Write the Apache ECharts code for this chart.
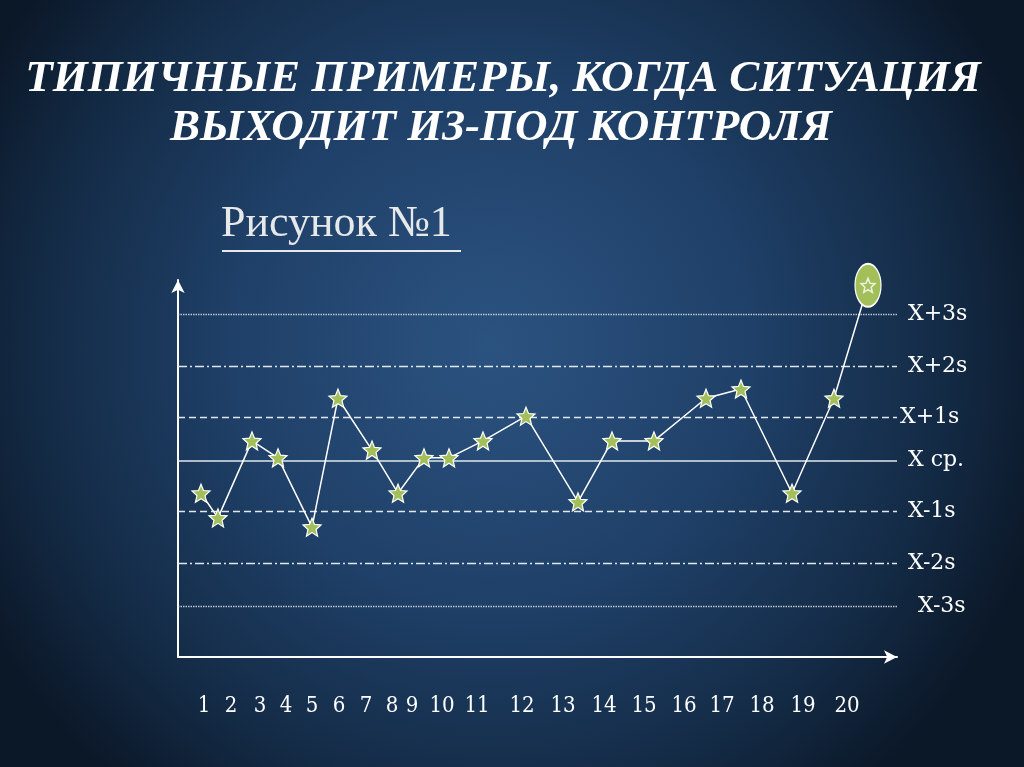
<!DOCTYPE html>
<html>
<head>
<meta charset="utf-8">
<script src="https://cdn.jsdelivr.net/npm/echarts@6/dist/echarts.min.js"></script>
<style>
html,body{margin:0;padding:0;background:#0e1b2b;}
#chart{width:1024px;height:767px;}
</style>
</head>
<body>
<div id="chart"></div>
<script>
// ---- data ----
const titleLines = ['ТИПИЧНЫЕ ПРИМЕРЫ, КОГДА СИТУАЦИЯ', 'ВЫХОДИТ ИЗ-ПОД КОНТРОЛЯ'];
const figureCaption = 'Рисунок №1';
// horizontal position of each sample along the x axis (percent of axis length)
const sampleX = [3.2, 5.56, 10.29, 13.91, 18.64, 22.25, 26.98, 30.6, 34.21, 37.69,
                 42.42, 48.4, 55.63, 60.36, 66.2, 73.44, 78.3, 85.4, 91.24, 95.97];
// measured value of each sample in sigma units relative to the mean
const sampleY = [-0.67, -1.18, 0.41, 0.06, -1.37, 1.29, 0.22, -0.67, 0.06, 0.06,
                 0.41, 0.92, -0.85, 0.41, 0.41, 1.29, 1.48, -0.67, 1.29, 3.62];
// x-axis tick labels and their positions
const tickLabels = ['1','2','3','4','5','6','7','8','9','10','11','12','13','14','15','16','17','18','19','20'];
const tickPos = [3.62, 7.37, 11.4, 15.02, 18.64, 22.39, 26.15, 29.76, 32.55, 36.72,
                 41.59, 47.84, 53.55, 59.25, 64.81, 70.38, 75.66, 81.22, 86.93, 93.05];
// control limits
const limitNames = ['X+3s', 'X+2s', 'X+1s', 'X ср.', 'X-1s', 'X-2s', 'X-3s'];
const limitValues = [3.02, 1.95, 0.89, 0, -1.05, -2.11, -3.0];
const limitKinds = ['dotted', 'dashdot', 'dashed', 'solid', 'dashed', 'dashdot', 'dotted'];

// ---- styling ----
const STAR = 'path://M10,0 L12.645,6.359 L19.511,6.910 L14.280,11.391 L15.878,18.090 L10,14.5 L4.122,18.090 L5.720,11.391 L0.489,6.910 L7.355,6.359 Z';
const ELLIPSE = 'path://M0,10 A10,10 0 1,1 20,10 A10,10 0 1,1 0,10 Z';
const GREEN = '#a2bf5a';
const dashFor = {
  dotted: [1.5, 1],
  dashdot: [9, 3, 2, 3],
  dashed: [7, 4],
  solid: 'solid'
};
const labelDistance = [11, 11, 3, 11, 11, 11, 21];

const lastIdx = sampleX.length - 1;
const lineData = sampleX.map((x, i) => {
  const item = { value: [x, sampleY[i]] };
  if (i === lastIdx) {
    item.symbol = ELLIPSE;
    item.symbolSize = [26, 43];
    item.itemStyle = { color: GREEN, borderColor: '#ffffff', borderWidth: 1.5 };
  }
  return item;
});

const markLineData = limitValues.map((v, i) => ({
  name: limitNames[i],
  yAxis: v,
  label: { distance: labelDistance[i] },
  lineStyle: {
    type: dashFor[limitKinds[i]],
    width: limitKinds[i] === 'solid' ? 1.6 : 1.4,
    color: limitKinds[i] === 'dotted' ? 'rgba(215,222,230,0.85)' : 'rgba(235,240,245,0.95)'
  }
}));

const titleStyle = {
  font: 'italic bold 45px "Liberation Serif"', fill: '#ffffff', align: 'center', verticalAlign: 'middle',
  shadowColor: 'rgba(0,0,0,0.85)', shadowBlur: 4, shadowOffsetX: 3, shadowOffsetY: 3
};

const chart = echarts.init(document.getElementById('chart'), null, { renderer: 'canvas' });
chart.setOption({
  animation: false,
  backgroundColor: {
    type: 'radial', x: 0.48, y: 0.45, r: 0.75,
    colorStops: [
      { offset: 0, color: '#2b5380' },
      { offset: 0.45, color: '#1f4068' },
      { offset: 0.8, color: '#132a44' },
      { offset: 1, color: '#0b1828' }
    ]
  },
  graphic: [
    { type: 'text', x: 503, y: 79, style: Object.assign({ text: titleLines[0] }, titleStyle) },
    { type: 'text', x: 501, y: 128, style: Object.assign({ text: titleLines[1] }, titleStyle) },
    {
      type: 'text', left: 221, top: 202,
      style: { text: figureCaption, font: '44px "Liberation Serif"', fill: '#e6e8ea' }
    },
    {
      type: 'line', shape: { x1: 222, y1: 251, x2: 461, y2: 251 },
      style: { stroke: '#e6e8ea', lineWidth: 2 }
    }
  ],
  grid: { left: 178, right: 127, top: 280, bottom: 110 },
  xAxis: {
    type: 'value', min: 0, max: 100,
    axisLine: { show: true, onZero: false, symbol: ['none', 'arrow'], symbolSize: [10, 13], lineStyle: { color: '#ffffff', width: 2 } },
    axisTick: { show: false },
    splitLine: { show: false },
    axisLabel: {
      customValues: tickPos,
      formatter: (v) => { const k = tickPos.indexOf(v); return k >= 0 ? tickLabels[k] : ''; },
      color: '#ffffff', fontFamily: '"DejaVu Serif Condensed","DejaVu Serif"', fontSize: 22, margin: 38
    }
  },
  yAxis: {
    type: 'value', min: -4.05, max: 3.73,
    axisLine: { show: true, onZero: false, symbol: ['none', 'arrow'], symbolSize: [10, 13], lineStyle: { color: '#ffffff', width: 2 } },
    axisTick: { show: false },
    axisLabel: { show: false },
    splitLine: { show: false }
  },
  series: [
    {
      type: 'line',
      data: lineData,
      symbol: STAR,
      symbolSize: 18,
      lineStyle: { color: '#ffffff', width: 1.5 },
      itemStyle: { color: GREEN, borderColor: '#ffffff', borderWidth: 1.2 },
      z: 3,
      markLine: {
        silent: true,
        symbol: ['none', 'none'],
        label: {
          show: true, position: 'end', distance: 11,
          formatter: (p) => p.name,
          color: '#ffffff', fontFamily: '"DejaVu Serif"', fontSize: 22
        },
        data: markLineData,
        z: 1
      }
    },
    {
      type: 'scatter',
      data: [[sampleX[lastIdx], sampleY[lastIdx]]],
      symbol: STAR,
      symbolSize: 14,
      itemStyle: { color: GREEN, borderColor: '#ffffff', borderWidth: 1.5 },
      z: 5
    }
  ]
});
</script>
</body>
</html>
